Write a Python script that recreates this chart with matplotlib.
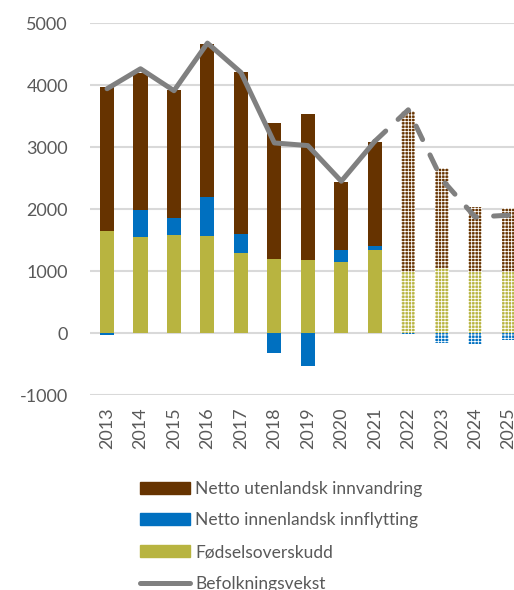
import numpy as np
import matplotlib
matplotlib.use("Agg")
import matplotlib.pyplot as plt
from matplotlib.patches import Patch
from matplotlib.lines import Line2D

plt.rcParams['font.family'] = ['Lato', 'DejaVu Sans']
plt.rcParams['hatch.linewidth'] = 0.6
plt.rcParams['axes.unicode_minus'] = False

# data
years = ['2013', '2014', '2015', '2016', '2017', '2018', '2019',
         '2020', '2021', '2022', '2023', '2024', '2025']
fodsel = np.array([1640, 1546, 1584, 1568, 1288, 1192, 1176, 1143, 1332, 982, 1053, 982, 982])
innenlandsk = np.array([-25, 441, 274, 633, 312, -315, -525, 194, 64, -20, -166, -182, -113])
utenlandsk = np.array([2320, 2206, 2055, 2459, 2603, 2201, 2362, 1106, 1686, 2593, 1610, 1053, 1037])
befolkning = np.array([3940, 4262, 3908, 4676, 4203, 3066, 3023, 2448, 3092, 3600, 2480, 1870, 1900])
n_hist = 9  # 2013-2021 historiske, resten framskriving

c_uten = '#663300'
c_inn = '#0070C0'
c_fod = '#B8B440'
c_line = '#808080'
txt = '#595959'

fig = plt.figure(figsize=(5.14, 5.9), dpi=100)
ax = fig.add_axes([0.1757, 0.3305, 1 - 0.1757, 0.961 - 0.3305])

x = np.arange(len(years))
w = 0.42
inn_pos = np.where(innenlandsk > 0, innenlandsk, 0)
inn_neg = np.where(innenlandsk < 0, innenlandsk, 0)

for i in x:
    if i < n_hist:
        kw = dict(linewidth=0)
    else:
        kw = dict(linewidth=0, edgecolor='white', hatch='+++++')
    ax.bar(i, fodsel[i], w, color=c_fod, **kw)
    ax.bar(i, inn_pos[i], w, bottom=fodsel[i], color=c_inn, **kw)
    ax.bar(i, inn_neg[i], w, color=c_inn, **kw)
    ax.bar(i, utenlandsk[i], w, bottom=fodsel[i] + inn_pos[i], color=c_uten, **kw)

ax.plot(x[:n_hist], befolkning[:n_hist], color=c_line, lw=3.6,
        solid_joinstyle='round', solid_capstyle='round')
ax.plot(x[n_hist - 1:], befolkning[n_hist - 1:], color=c_line, lw=3.6,
        dashes=(3, 3.4), dash_capstyle='round', dash_joinstyle='round')

ax.set_ylim(-1000, 5000)
ax.set_xlim(-0.5, 12.16)
ax.set_yticks(range(-1000, 5001, 1000))
ax.set_xticks(x)
ax.set_xticklabels(years, rotation=90)
ax.grid(axis='y', color='#d9d9d9', lw=1.5)
ax.set_axisbelow(True)
for s in ax.spines.values():
    s.set_visible(False)
ax.tick_params(length=0, labelsize=13, colors=txt)
ax.tick_params(axis='y', pad=16)
ax.tick_params(axis='x', pad=9)

handles = [Patch(color=c_uten), Patch(color=c_inn), Patch(color=c_fod),
           Line2D([0], [0], color=c_line, lw=3.6, solid_capstyle='round')]
labels = ['Netto utenlandsk innvandring', 'Netto innenlandsk innflytting',
          'Fødselsoverskudd', 'Befolkningsvekst']
leg = fig.legend(handles, labels, loc='upper left', bbox_to_anchor=(0.272, 0.185),
                 frameon=False, fontsize=12.5, handlelength=2.9, handletextpad=0.3,
                 labelspacing=0.9, borderpad=0, borderaxespad=0)
for t in leg.get_texts():
    t.set_color(txt)

fig.savefig('out.png', dpi=100)
